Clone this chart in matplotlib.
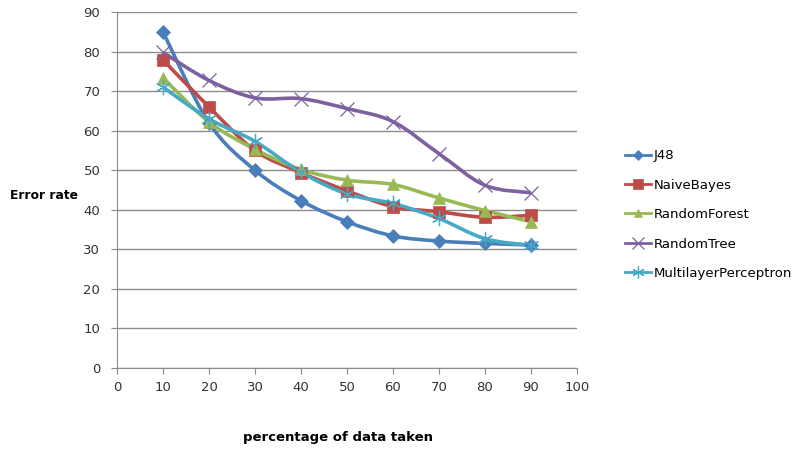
import numpy as np
import matplotlib
matplotlib.use("Agg")
from matplotlib import pyplot as plt
from matplotlib.path import Path
from matplotlib.patches import PathPatch
from matplotlib.lines import Line2D

# data
pct = [10, 20, 30, 40, 50, 60, 70, 80, 90]
j48 = [85, 62, 50, 42.3, 37, 33.4, 32.1, 31.5, 31.1]
naive_bayes = [77.9, 66, 55, 49.4, 44.8, 40.8, 39.5, 38.1, 38.6]
random_forest = [73.4, 62.2, 55.3, 50.2, 47.5, 46.4, 43, 39.8, 37]
random_tree = [79.8, 72.7, 68.3, 68.1, 65.6, 62.3, 54.2, 46.2, 44.3]
mlp = [71, 63, 57.3, 49.5, 44, 41.6, 37.8, 32.7, 31]

names = ["J48", "NaiveBayes", "RandomForest", "RandomTree", "MultilayerPerceptron"]
series = [j48, naive_bayes, random_forest, random_tree, mlp]
colors = ["#4A7EBB", "#BE4B48", "#98B954", "#7D60A0", "#46AAC5"]
markers = ["D", "s", "^", "x", (6, 2, 0)]
msizes = [7, 9, 8, 10, 11]


def smooth_path(x, y):
    # excel-style smoothed line: cardinal spline as cubic bezier segments
    x = np.asarray(x, float)
    y = np.asarray(y, float)
    verts = [(x[0], y[0])]
    codes = [Path.MOVETO]
    n = len(x)
    t = 1 / 6
    for i in range(n - 1):
        x0, y0 = (x[i - 1], y[i - 1]) if i > 0 else (x[i], y[i])
        x3, y3 = (x[i + 2], y[i + 2]) if i + 2 < n else (x[i + 1], y[i + 1])
        c1 = (x[i] + (x[i + 1] - x0) * t, y[i] + (y[i + 1] - y0) * t)
        c2 = (x[i + 1] - (x3 - x[i]) * t, y[i + 1] - (y3 - y[i]) * t)
        verts += [c1, c2, (x[i + 1], y[i + 1])]
        codes += [Path.CURVE4] * 3
    return Path(verts, codes)


fig = plt.figure(figsize=(8.04, 4.5), dpi=100)
ax = fig.add_axes([0.1455, 0.1822, 0.572, 0.7911])

handles = []
for name, vals, c, m, ms in zip(names, series, colors, markers, msizes):
    ax.add_patch(PathPatch(smooth_path(pct, vals), facecolor="none",
                           edgecolor=c, lw=2.6, zorder=3))
    thin = m in ("x",) or isinstance(m, tuple)
    mew = 0.9 if thin else 0.5
    ax.plot(pct, vals, linestyle="none", marker=m, ms=ms, color=c,
            markeredgecolor=c, mew=mew, zorder=4)
    handles.append(Line2D([], [], color=c, lw=2, marker=m, ms=ms * 0.8,
                          mew=mew, label=name))

ax.set_xlim(0, 100)
ax.set_ylim(0, 90)
ax.set_xticks(range(0, 101, 10))
ax.set_yticks(range(0, 91, 10))
ax.grid(axis="y", color="#8c8c8c", lw=1)
ax.set_axisbelow(True)
for s in ["top", "right"]:
    ax.spines[s].set_visible(False)
for s in ["left", "bottom"]:
    ax.spines[s].set_color("#8c8c8c")
ax.tick_params(colors="#8c8c8c", labelcolor="#333333", labelsize=9.5,
               direction="out", length=4)
ax.tick_params(axis="y", pad=8)
ax.tick_params(axis="x", pad=5)

fig.text(0.013, 0.565, "Error rate", fontsize=8.8, fontweight="bold",
         va="center", ha="left")
fig.text(0.42, 0.027, "percentage of data taken", fontsize=9.5,
         fontweight="bold", ha="center", va="center")

fig.legend(handles=handles, loc="upper left", bbox_to_anchor=(0.762, 0.695),
           frameon=False, fontsize=9.5, labelspacing=1.25, handlelength=2.0,
           handletextpad=0.2)

fig.savefig("out.png", dpi=100)
